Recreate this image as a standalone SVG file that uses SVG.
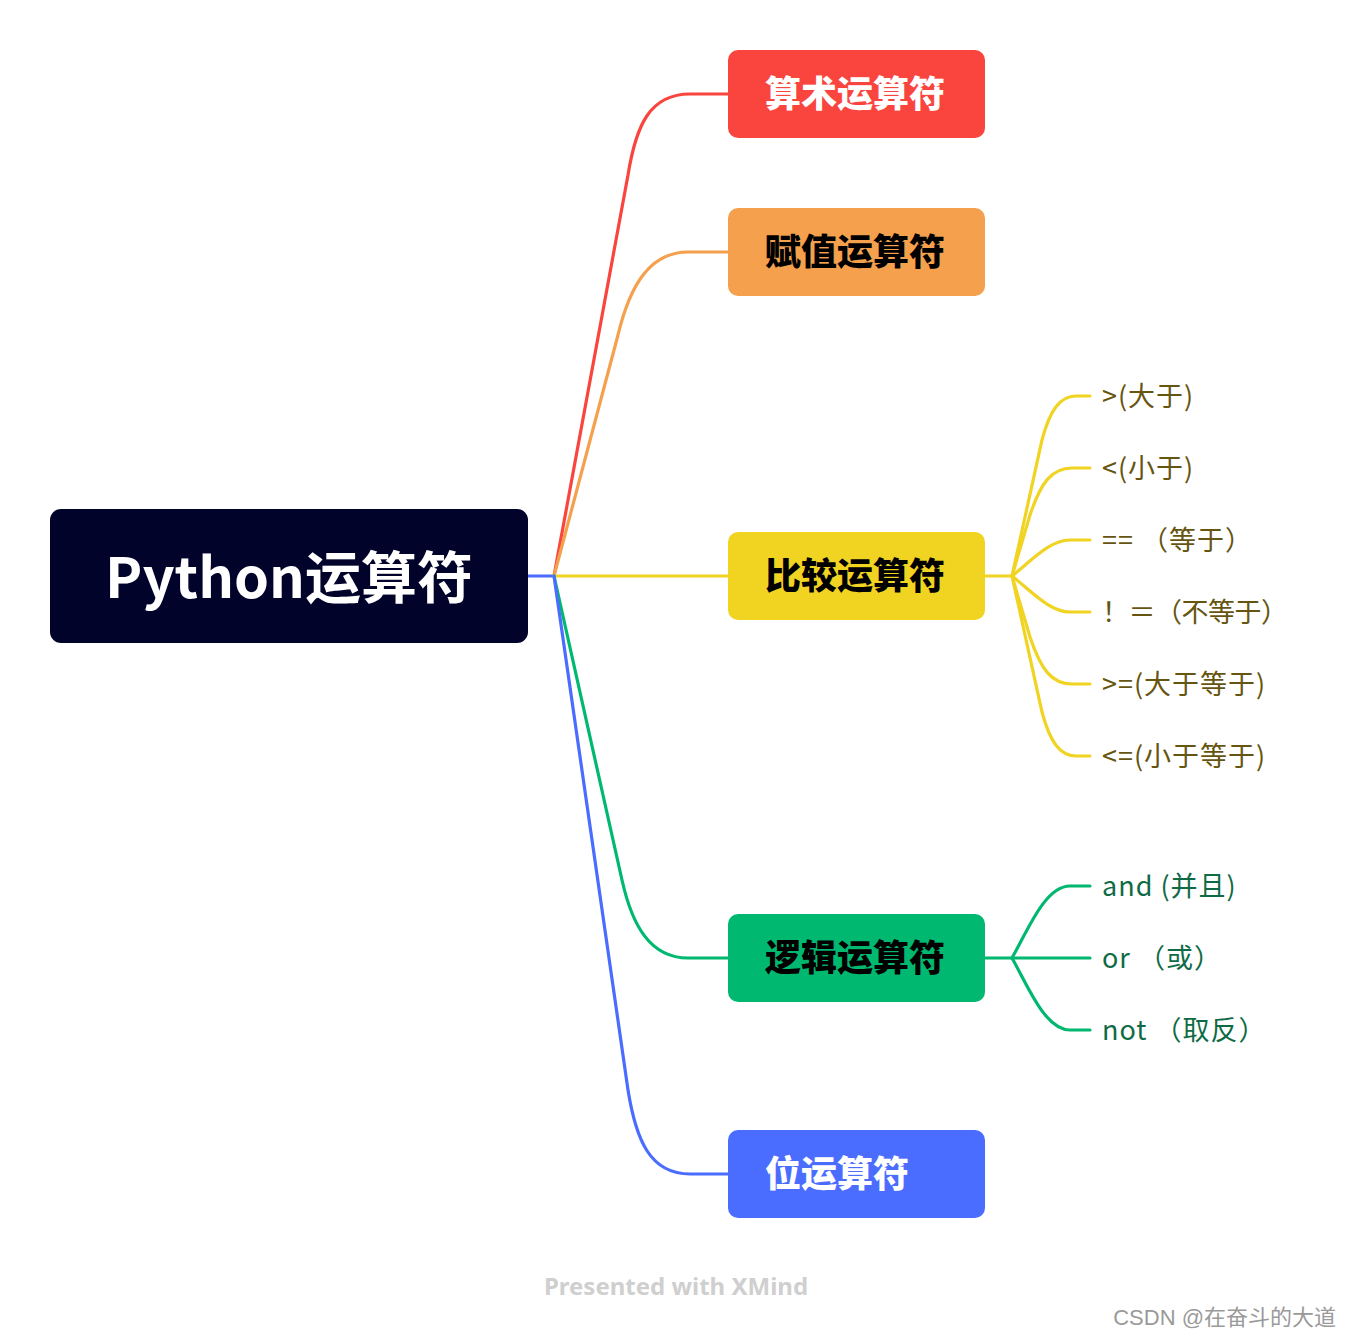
<svg xmlns="http://www.w3.org/2000/svg" width="1352" height="1338" viewBox="0 0 1352 1338">
<style>
.main{font-family:"Noto Sans CJK SC","Noto Sans",sans-serif;font-size:36px;font-weight:900;dominant-baseline:central}
.sub{font-family:"Noto Sans CJK SC","Noto Sans",sans-serif;font-size:27px;letter-spacing:1px;dominant-baseline:central}
.y{fill:#665510}
.g{fill:#0e6b45}
.c{fill:none;stroke-width:3.2;stroke-linecap:round}
</style>
<rect width="1352" height="1338" fill="#fff"/>
<g id="connectors">
<path class="c" stroke="#4a6cff" d="M528,576 L554,576"/>
<path class="c" stroke="#f9453e" d="M554,576 L628,175 C636,125 650,94 690,94 L728,94"/>
<path class="c" stroke="#f5a04d" d="M554,576 L618,335 C630,285 650,252 688,252 L728,252"/>
<path class="c" stroke="#f1d321" d="M554,576 L728,576"/>
<path class="c" stroke="#00b86f" d="M554,576 L622,880 C632,925 650,958 688,958 L728,958"/>
<path class="c" stroke="#4a6cff" d="M554,576 L628,1090 C636,1140 650,1174 690,1174 L728,1174"/>
<path class="c" stroke="#f1d321" d="M985,576 L1012,576"/>
<path class="c" stroke="#f1d321" d="M1012,576 L1042,440 C1050,410 1060,396 1076,396 L1090,396"/>
<path class="c" stroke="#f1d321" d="M1012,576 L1030,515 C1041,482 1052,468 1072,468 L1090,468"/>
<path class="c" stroke="#f1d321" d="M1012,576 C1032,560 1050,540 1070,540 L1090,540"/>
<path class="c" stroke="#f1d321" d="M1012,576 C1032,592 1050,612 1070,612 L1090,612"/>
<path class="c" stroke="#f1d321" d="M1012,576 L1030,637 C1041,670 1052,684 1072,684 L1090,684"/>
<path class="c" stroke="#f1d321" d="M1012,576 L1042,712 C1050,742 1060,756 1076,756 L1090,756"/>
<path class="c" stroke="#00b86f" d="M985,958 L1012,958"/>
<path class="c" stroke="#00b86f" d="M1012,958 C1028,930 1045,886 1070,886 L1090,886"/>
<path class="c" stroke="#00b86f" d="M1012,958 L1090,958"/>
<path class="c" stroke="#00b86f" d="M1012,958 C1028,986 1045,1030 1070,1030 L1090,1030"/>
</g>
<g id="root">
<rect x="50" y="509" width="478" height="134" rx="11" fill="#02032a"/>
<text x="289" y="573" text-anchor="middle" font-family="'Noto Sans CJK SC','Noto Sans',sans-serif" font-size="56" font-weight="700" fill="#fff" dominant-baseline="central">Python运算符</text>
</g>
<g id="n-arith">
<rect x="728" y="50" width="257" height="88" rx="10" fill="#f9453e"/>
<text class="main" x="765" y="91" fill="#fff">算术运算符</text>
</g>
<g id="n-assign">
<rect x="728" y="208" width="257" height="88" rx="10" fill="#f5a04d"/>
<text class="main" x="765" y="249" fill="#000">赋值运算符</text>
</g>
<g id="n-compare">
<rect x="728" y="532" width="257" height="88" rx="10" fill="#f1d321"/>
<text class="main" x="765" y="573" fill="#000">比较运算符</text>
</g>
<g id="n-logic">
<rect x="728" y="914" width="257" height="88" rx="10" fill="#00b86f"/>
<text class="main" x="765" y="955" fill="#000">逻辑运算符</text>
</g>
<g id="n-bit">
<rect x="728" y="1130" width="257" height="88" rx="10" fill="#4a6cff"/>
<text class="main" x="765" y="1171" fill="#fff">位运算符</text>
</g>
<g id="c1"><text class="sub y" x="1102" y="394">&gt;(大于)</text></g>
<g id="c2"><text class="sub y" x="1102" y="466">&lt;(小于)</text></g>
<g id="c3"><text class="sub y" x="1102" y="538">== （等于）</text></g>
<g id="c4"><text class="sub y" x="1102" y="610" style="letter-spacing:-0.5px">！＝（不等于）</text></g>
<g id="c5"><text class="sub y" x="1102" y="682">&gt;=(大于等于)</text></g>
<g id="c6"><text class="sub y" x="1102" y="754">&lt;=(小于等于)</text></g>
<g id="l1"><text class="sub g" x="1102" y="884">and (并且)</text></g>
<g id="l2"><text class="sub g" x="1102" y="956">or （或）</text></g>
<g id="l3"><text class="sub g" x="1102" y="1028">not （取反）</text></g>
<text x="676" y="1295" text-anchor="middle" font-family="'Noto Sans','Open Sans',sans-serif" font-size="24" font-weight="700" fill="#cfcfcf">Presented with XMind</text>
<text x="1336" y="1325" text-anchor="end" font-family="'Liberation Sans','Noto Sans CJK SC',sans-serif" font-size="22" fill="#9a9a9a">CSDN @在奋斗的大道</text>
</svg>
